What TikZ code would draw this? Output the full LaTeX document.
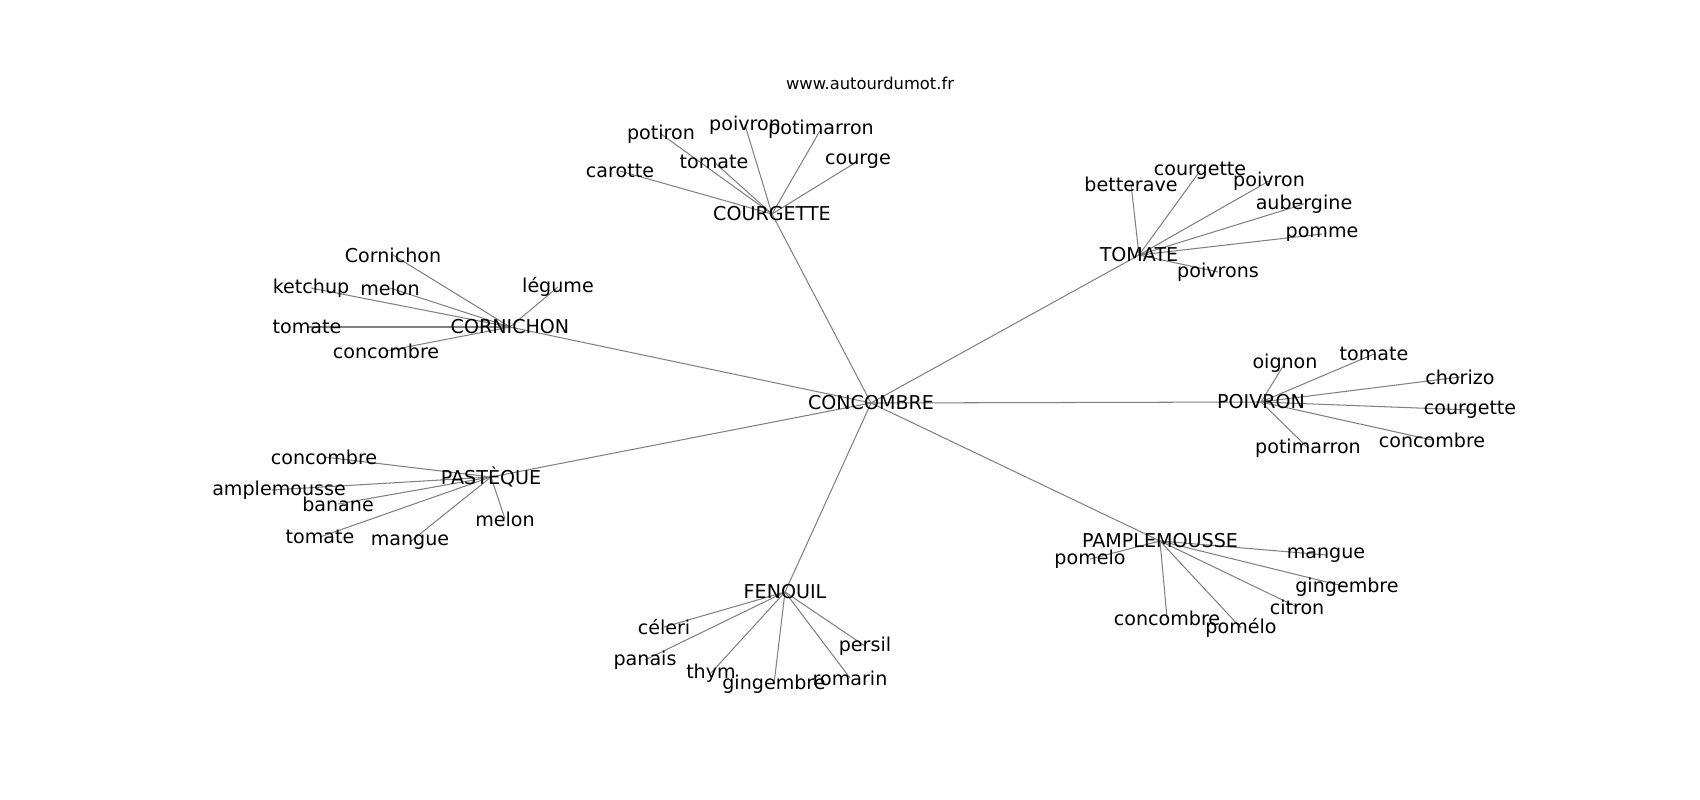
\documentclass[tikz,border=0pt]{standalone}
\usepackage{fontspec}
\setmainfont{DejaVu Sans}
\usepackage{xcolor}
\usepackage{tikz}
\usetikzlibrary{backgrounds}

\definecolor{edgegray}{rgb}{0.5,0.5,0.5}

\begin{document}
\begin{tikzpicture}[
    x=0.72bp, y=-0.72bp,
    word/.style={inner sep=0pt,font=\fontsize{13.8}{16}\selectfont},
    link/.style={draw=edgegray,line width=0.75pt}
    ]
    \useasboundingbox (0,0) rectangle (1700,800);

    \node[inner sep=0pt,font=\fontsize{11.8}{14}\selectfont] (site) at (870,83) {www.autourdumot.fr};

    \node[word] (conc) at (871,403) {CONCOMBRE};

    \node[word] (cour) at (772,214) {COURGETTE};
    \node[word] (tom) at (1139,255) {TOMATE};
    \node[word] (corn) at (510,327) {CORNICHON};
    \node[word] (poiv) at (1261,402) {POIVRON};
    \node[word] (past) at (491,477) {PASTÈQUE};
    \node[word] (fen) at (785,592) {FENOUIL};
    \node[word] (pamp) at (1160,541) {PAMPLEMOUSSE};

    % courgette
    \node[word] (cour-car) at (620,171) {carotte};
    \node[word] (cour-pot) at (661,134) {potiron};
    \node[word] (cour-poi) at (745,125) {poivron};
    \node[word] (cour-ptm) at (821,129) {potimarron};
    \node[word] (cour-tom) at (714,162) {tomate};
    \node[word] (cour-crg) at (858,161) {courge};

    % tomate
    \node[word] (tom-bet) at (1131,184) {betterave};
    \node[word] (tom-cou) at (1200,171) {courgette};
    \node[word] (tom-poi) at (1269,181) {poivron};
    \node[word] (tom-aub) at (1304,204) {aubergine};
    \node[word] (tom-pom) at (1322,234) {pomme};
    \node[word] (tom-pvs) at (1218,272) {poivrons};

    % cornichon
    \node[word] (corn-cor) at (393,255) {Cornichon};
    \node[word] (corn-ket) at (311,288) {ketchup};
    \node[word] (corn-mel) at (390,288) {melon};
    \node[word] (corn-leg) at (558,287) {légume};
    \node[word] (corn-tom) at (307,327) {tomate};
    \node[word] (corn-con) at (386,351) {concombre};

    % poivron
    \node[word] (poiv-oig) at (1285,363) {oignon};
    \node[word] (poiv-tom) at (1374,354) {tomate};
    \node[word] (poiv-cho) at (1460,377) {chorizo};
    \node[word] (poiv-cou) at (1470,410) {courgette};
    \node[word] (poiv-con) at (1432,440) {concombre};
    \node[word] (poiv-ptm) at (1308,448) {potimarron};

    % pasteque
    \node[word] (past-con) at (324,457) {concombre};
    \coordinate (past-pmp) at (272,490);
    \node[word,anchor=west] (past-pmt) at (212,490) {amplemousse};
    \node[word] (past-ban) at (338,504) {banane};
    \node[word] (past-tom) at (320,537) {tomate};
    \node[word] (past-man) at (410,542) {mangue};
    \node[word] (past-mel) at (505,519) {melon};

    % fenouil
    \node[word] (fen-cel) at (664,627) {céleri};
    \node[word] (fen-pan) at (645,660) {panais};
    \node[word] (fen-thy) at (711,673) {thym};
    \node[word] (fen-gin) at (774,684) {gingembre};
    \node[word] (fen-rom) at (850,678) {romarin};
    \node[word] (fen-per) at (865,646) {persil};

    % pamplemousse
    \node[word] (pamp-pml) at (1090,559) {pomelo};
    \node[word] (pamp-man) at (1326,555) {mangue};
    \node[word] (pamp-gin) at (1347,587) {gingembre};
    \node[word] (pamp-cit) at (1297,607) {citron};
    \node[word] (pamp-con) at (1167,618) {concombre};
    \node[word] (pamp-pme) at (1241,628) {pomélo};

    \begin{scope}[on background layer]
    \path (conc.center) edge[link] (cour.center)
    (conc.center) edge[link] (tom.center)
    (conc.center) edge[link] (corn.center)
    (conc.center) edge[link] (poiv.center)
    (conc.center) edge[link] (past.center)
    (conc.center) edge[link] (fen.center)
    (conc.center) edge[link] (pamp.center)

    (cour.center) edge[link] (cour-car.center)
    (cour.center) edge[link] (cour-pot.center)
    (cour.center) edge[link] (cour-poi.center)
    (cour.center) edge[link] (cour-ptm.center)
    (cour.center) edge[link] (cour-tom.center)
    (cour.center) edge[link] (cour-crg.center)

    (tom.center) edge[link] (tom-bet.center)
    (tom.center) edge[link] (tom-cou.center)
    (tom.center) edge[link] (tom-poi.center)
    (tom.center) edge[link] (tom-aub.center)
    (tom.center) edge[link] (tom-pom.center)
    (tom.center) edge[link] (tom-pvs.center)

    (corn.center) edge[link] (corn-cor.center)
    (corn.center) edge[link] (corn-ket.center)
    (corn.center) edge[link] (corn-mel.center)
    (corn.center) edge[link] (corn-leg.center)
    (corn.center) edge[link] (corn-tom.center)
    (corn.center) edge[link] (corn-con.center)

    (poiv.center) edge[link] (poiv-oig.center)
    (poiv.center) edge[link] (poiv-tom.center)
    (poiv.center) edge[link] (poiv-cho.center)
    (poiv.center) edge[link] (poiv-cou.center)
    (poiv.center) edge[link] (poiv-con.center)
    (poiv.center) edge[link] (poiv-ptm.center)

    (past.center) edge[link] (past-con.center)
    (past.center) edge[link] (past-pmp)
    (past.center) edge[link] (past-ban.center)
    (past.center) edge[link] (past-tom.center)
    (past.center) edge[link] (past-man.center)
    (past.center) edge[link] (past-mel.center)

    (fen.center) edge[link] (fen-cel.center)
    (fen.center) edge[link] (fen-pan.center)
    (fen.center) edge[link] (fen-thy.center)
    (fen.center) edge[link] (fen-gin.center)
    (fen.center) edge[link] (fen-rom.center)
    (fen.center) edge[link] (fen-per.center)

    (pamp.center) edge[link] (pamp-pml.center)
    (pamp.center) edge[link] (pamp-man.center)
    (pamp.center) edge[link] (pamp-gin.center)
    (pamp.center) edge[link] (pamp-cit.center)
    (pamp.center) edge[link] (pamp-con.center)
    (pamp.center) edge[link] (pamp-pme.center)
    ;
    \end{scope}
\end{tikzpicture}
\end{document}
